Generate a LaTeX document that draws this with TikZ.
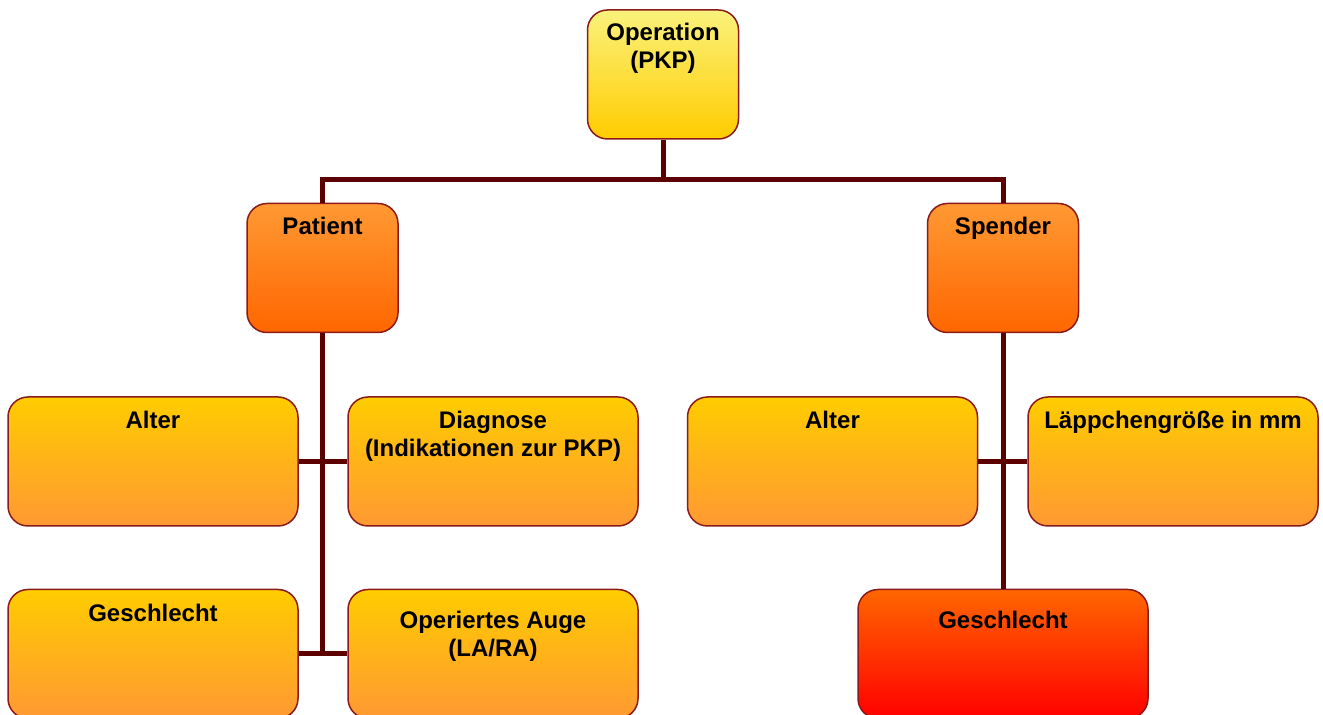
\documentclass[tikz,border=0pt]{standalone}
\usepackage{fontspec}
\setmainfont{Liberation Sans}
\definecolor{linkcol}{HTML}{5C0000}
\definecolor{boxline}{HTML}{8B1A1A}
\definecolor{paleyellow}{HTML}{FAF27C}
\definecolor{gold}{HTML}{FFCC00}
\definecolor{lightorange}{HTML}{FF9933}
\definecolor{deeporange}{HTML}{FF6600}
\definecolor{brightred}{HTML}{FF0000}
\tikzset{
  box/.style={draw=boxline, line width=0.75pt, rounded corners=10pt,
    minimum width=145pt, minimum height=64.5pt, inner sep=0pt},
  smallbox/.style={box, minimum width=75.5pt},
  topfill/.style={top color=paleyellow, bottom color=gold},
  midfill/.style={top color=lightorange, bottom color=deeporange},
  lowfill/.style={top color=gold, bottom color=lightorange},
  redfill/.style={top color=deeporange, bottom color=brightred},
  txt/.style={anchor=north, inner sep=0pt, align=center,
    font=\fontsize{12}{14}\selectfont\bfseries},
  link/.style={draw=linkcol, line width=2.5pt}
}
\begin{document}
\begin{tikzpicture}[x=0.5pt,y=-0.5pt]
\useasboundingbox (0,0) rectangle (1323,715);
%% the boxes
\node[smallbox, topfill] (op) at (663,74.5) {};
\node[smallbox, midfill] (pat) at (322.5,268) {};
\node[smallbox, midfill] (spe) at (1003,268) {};
\node[box, lowfill] (alt1) at (153,461.5) {};
\node[box, lowfill] (dia) at (493,461.5) {};
\node[box, lowfill] (alt2) at (832.5,461.5) {};
\node[box, lowfill] (lap) at (1173,461.5) {};
\node[box, lowfill] (ges1) at (153,654) {};
\node[box, lowfill] (aug) at (493,654) {};
\node[box, redfill] (ges2) at (1003,654) {};
%% the texts
\node[txt] (opt) at ([yshift=-6.5pt]op.north) {Operation\\(PKP)};
\node[txt] (patt) at ([yshift=-7pt]pat.north) {Patient};
\node[txt] (spet) at ([yshift=-7pt]spe.north) {Spender};
\node[txt] (alt1t) at ([yshift=-7pt]alt1.north) {Alter};
\node[txt] (diat) at ([yshift=-7pt]dia.north) {Diagnose\\(Indikationen zur PKP)};
\node[txt] (alt2t) at ([yshift=-7pt]alt2.north) {Alter};
\node[txt] (lapt) at ([yshift=-7pt]lap.north) {Läppchengröße in mm};
\node[txt] (ges1t) at ([yshift=-7.5pt]ges1.north) {Geschlecht};
\node[txt] (augt) at ([yshift=-11pt]aug.north) {Operiertes Auge\\(LA/RA)};
\node[txt] (ges2t) at ([yshift=-11pt]ges2.north) {Geschlecht};
%% the connectors
\coordinate (fork) at (663,180);
\coordinate (ptrunk) at (322.5,655);
\draw[link] (op.south) -- (fork);
\draw[link] (pat.north) |- (fork) -| (spe.north);
\draw[link] (pat.south) -- (ptrunk);
\draw[link] (alt1.east) -- (dia.west);
\draw[link] (ges1.east) -- (aug.west);
\draw[link] (spe.south) -- (ges2.north);
\draw[link] (alt2.east) -- (lap.west);
\end{tikzpicture}
\end{document}
